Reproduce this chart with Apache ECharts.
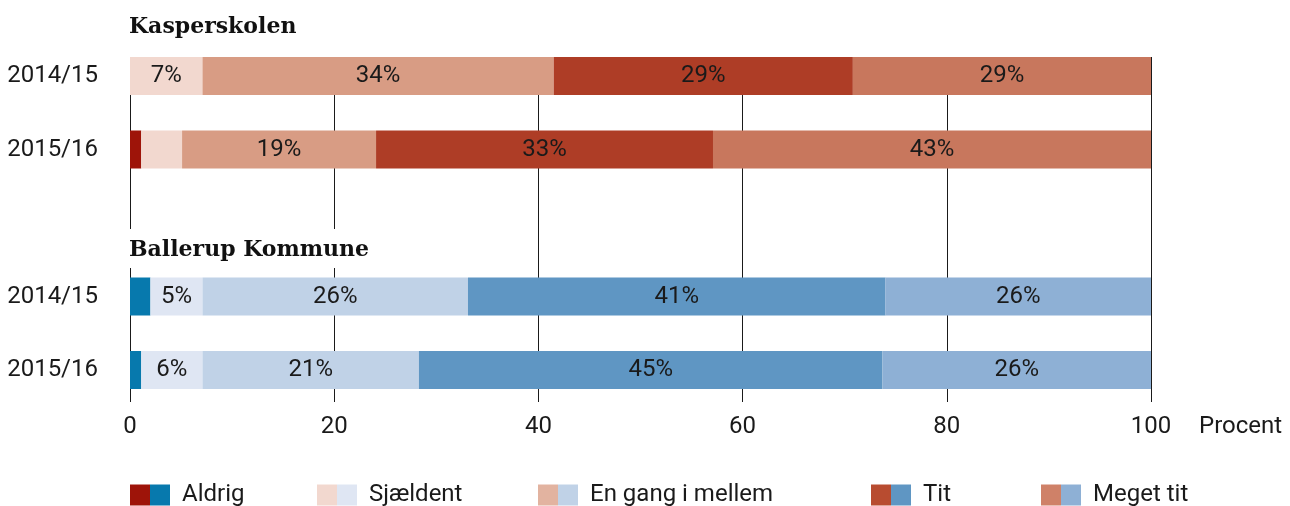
<!DOCTYPE html>
<html><head><meta charset="utf-8">
<script src="https://cdn.jsdelivr.net/npm/echarts@6/dist/echarts.min.js"></script>
<style>html,body{margin:0;padding:0;background:#fff}#c{width:1290px;height:506px}</style>
</head><body><div id="c"></div>
<script>
const groups = ['Kasperskolen', 'Ballerup Kommune'];
const years = ['2014/15', '2015/16'];
const answers = ['Aldrig', 'Sjældent', 'En gang i mellem', 'Tit', 'Meget tit'];
const xTicks = [0, 20, 40, 60, 80, 100];
const axisName = 'Procent';
// values in percent, [2014/15, 2015/16]
const kasperAldrig = [0, 1.1];
const kasperSjaeldent = [7.1, 4.0];
const kasperEnGang = [34.4, 19.0];
const kasperTit = [29.3, 33.0];
const kasperMegetTit = [29.2, 42.9];
const ballerupAldrig = [2.0, 1.1];
const ballerupSjaeldent = [5.1, 6.0];
const ballerupEnGang = [26.0, 21.2];
const ballerupTit = [40.9, 45.4];
const ballerupMegetTit = [26.0, 26.3];

const redColors = ['#9e1409', '#f2d8cf', '#d89c84', '#ae3d26', '#c8775d'];
const blueColors = ['#0779ad', '#dfe6f3', '#c0d2e7', '#5f96c3', '#8eb0d5'];
const redLegendColors = ['#9e1409', '#f2d8cf', '#e2b3a0', '#b84c30', '#cf8168'];

const kasperValues = [kasperAldrig, kasperSjaeldent, kasperEnGang, kasperTit, kasperMegetTit];
const ballerupValues = [ballerupAldrig, ballerupSjaeldent, ballerupEnGang, ballerupTit, ballerupMegetTit];

const categories = [
  'K|' + years[0], 'K|' + years[1], 'gap', 'B|' + years[0], 'B|' + years[1]
];

const FONT = 'Roboto';
const TXT = '#1a1a1a';

const labelOpt = {
  show: true, position: 'inside', color: TXT, fontFamily: FONT, fontSize: 24,
  formatter: p => (p.value >= 5 ? Math.round(p.value) + '%' : '')
};

const series = [];
kasperValues.forEach((v, i) => {
  series.push({
    name: groups[0] + ' – ' + answers[i], type: 'bar', stack: 'k',
    xAxisIndex: 0, yAxisIndex: 0, barWidth: 38, barGap: '-100%',
    data: [v[0], v[1], '-', '-', '-'],
    itemStyle: { color: redColors[i] }, label: labelOpt, silent: true
  });
});
ballerupValues.forEach((v, i) => {
  series.push({
    name: groups[1] + ' – ' + answers[i], type: 'bar', stack: 'b',
    xAxisIndex: 0, yAxisIndex: 0, barWidth: 38, barGap: '-100%',
    data: ['-', '-', '-', v[0], v[1]],
    itemStyle: { color: blueColors[i] }, label: labelOpt, silent: true
  });
});
series.push({ type: 'line', xAxisIndex: 1, yAxisIndex: 1, data: [], silent: true });

const redLeft = [130, 317, 538, 871, 1041];
const blueLeft = [150, 337, 558, 891, 1061];
const legendText = { fontFamily: FONT, fontSize: 24, lineHeight: 21, color: TXT, padding: [0, 0, 0, 7] };
const legends = [];
answers.forEach((a, i) => {
  legends.push({
    left: redLeft[i], top: 483, padding: 0, itemWidth: 20, itemHeight: 21,
    icon: 'rect', selectedMode: false,
    data: [{ name: groups[0] + ' – ' + a, itemStyle: { color: redLegendColors[i] } }],
    formatter: () => ' ',
    textStyle: legendText
  });
  legends.push({
    left: blueLeft[i], top: 483, padding: 0, itemWidth: 20, itemHeight: 21,
    icon: 'rect', selectedMode: false,
    data: [groups[1] + ' – ' + a],
    formatter: n => n.split(' – ')[1],
    textStyle: legendText
  });
});

const titleText = { fontFamily: 'DejaVu Serif', fontWeight: 'bold', fontSize: 22, lineHeight: 22, color: '#111' };

const option = {
  animation: false,
  backgroundColor: '#fff',
  title: [
    { text: groups[0], left: 124, top: 16, padding: [0, 0, 0, 5], textStyle: titleText },
    { text: groups[1], left: 124, top: 229, padding: [10, 8, 7, 5], backgroundColor: '#fff', textStyle: titleText }
  ],
  legend: legends,
  grid: [
    { left: 130, width: 1021, top: 39.25, height: 367.5 },
    { left: 130, width: 1021, top: 57, height: 345 }
  ],
  xAxis: [
    { gridIndex: 0, type: 'value', min: 0, max: 100, show: false },
    {
      gridIndex: 1, type: 'value', min: xTicks[0], max: xTicks[xTicks.length - 1], interval: 20,
      axisLine: { show: false }, axisTick: { show: false },
      splitLine: { show: true, lineStyle: { color: '#1a1a1a', width: 1 } },
      axisLabel: { color: TXT, fontFamily: FONT, fontSize: 24, margin: 13 },
      name: axisName, nameLocation: 'end', nameGap: 48,
      nameTextStyle: { color: TXT, fontFamily: FONT, fontSize: 24, align: 'left', verticalAlign: 'top', padding: [13, 0, 0, 0] }
    }
  ],
  yAxis: [
    {
      gridIndex: 0, type: 'category', inverse: true, data: categories,
      axisLine: { show: false }, axisTick: { show: false }, splitLine: { show: false },
      axisLabel: { color: TXT, fontFamily: FONT, fontSize: 24, margin: 32, formatter: v => v.split('|')[1] || '' }
    },
    { gridIndex: 1, type: 'value', min: 0, max: 1, show: false }
  ],
  series: series
};

const chart = echarts.init(document.getElementById('c'), null, { renderer: 'canvas' });
chart.setOption(option);
</script>
</body></html>
